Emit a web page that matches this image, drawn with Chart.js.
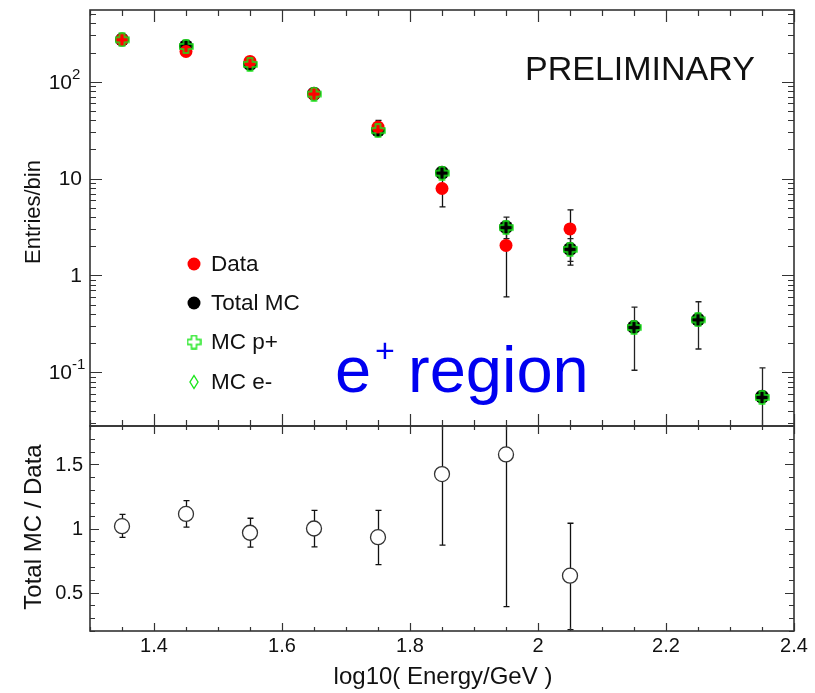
<!DOCTYPE html>
<html>
<head>
<meta charset="utf-8">
<script src="https://cdn.jsdelivr.net/npm/chart.js@4.4.1/dist/chart.umd.min.js"></script>
<style>
  body { margin: 0; background: #fff; }
  #wrap { position: relative; width: 815px; height: 693px; }
  canvas { position: absolute; left: 0; top: 0; }
</style>
</head>
<body>
<div id="wrap">
  <canvas id="topChart" width="815" height="693"></canvas>
  <canvas id="ratioChart" width="815" height="693"></canvas>
</div>
<script>
// bin centres, log10(E/GeV)
const binCenters = [1.35, 1.45, 1.55, 1.65, 1.75, 1.85, 1.95, 2.05, 2.15, 2.25, 2.35];

// entries per bin
const dataEntries  = [272, 205, 162, 75, 34, 7.9, 2.04, 3.02, null, null, null];
const dataErrLow   = [256, 191, 149, 66.5, 28.3, 5.1, 0.6, 1.28, null, null, null];
const dataErrHigh  = [288, 219, 175, 83.7, 39.8, 10.7, 3.45, 4.75, null, null, null];

const totalMC      = [272, 232, 152, 75, 31.5, 11.5, 3.15, 1.87, 0.293, 0.35, 0.056];
const totalMCLow   = [264, 224, 146, 71.5, 29.8, 10.7, 2.4, 1.4, 0.105, 0.174, 0.01];
const totalMCHigh  = [280, 240, 158, 78.5, 33.2, 12.3, 4.0, 2.4, 0.47, 0.535, 0.111];

const mcProton     = [271, 231, 151, 74.5, 31.3, 11.4, 3.12, 1.86, 0.29, 0.348, 0.055];
const mcElectron   = [null, null, null, null, null, null, null, null, null, null, null];

// ratio panel
const ratioBins    = [1.35, 1.45, 1.55, 1.65, 1.75, 1.85, 1.95, 2.05];
const ratioVals    = [1.018, 1.114, 0.967, 1.0, 0.932, 1.425, 1.578, 0.632];
const ratioLow     = [0.93, 1.01, 0.855, 0.857, 0.718, 0.87, 0.39, 0.21];
const ratioHigh    = [1.11, 1.218, 1.08, 1.142, 1.142, 2.0, 2.8, 1.041];

// ticks
const xTickValues  = [1.4, 1.6, 1.8, 2.0, 2.2, 2.4];
const xTickLabels  = ['1.4', '1.6', '1.8', '2', '2.2', '2.4'];
const logTickValues = [0.1, 1, 10, 100];
const logTickBase   = ['10', '1', '10', '10'];
const logTickExp    = ['-1', '', '', '2'];
const ratioTickValues = [0.5, 1, 1.5];
const ratioTickLabels = ['0.5', '1', '1.5'];

const legendLabels = ['Data', 'Total MC', 'MC p+', 'MC e-'];

const FONT = "'Liberation Sans', Arial, Helvetica, sans-serif";
const INK = '#111';
const FRAME = '#333';
const GREEN = '#19e619';

// open cross marker for MC p+
function openCross(size, color) {
  const c = document.createElement('canvas');
  c.width = size; c.height = size;
  const g = c.getContext('2d');
  const m = size / 2, o = size / 2 - 1, w = size / 6;
  g.strokeStyle = color; g.lineWidth = 1.4;
  g.beginPath();
  g.moveTo(m - w, m - o); g.lineTo(m + w, m - o); g.lineTo(m + w, m - w);
  g.lineTo(m + o, m - w); g.lineTo(m + o, m + w); g.lineTo(m + w, m + w);
  g.lineTo(m + w, m + o); g.lineTo(m - w, m + o); g.lineTo(m - w, m + w);
  g.lineTo(m - o, m + w); g.lineTo(m - o, m - w); g.lineTo(m - w, m - w);
  g.closePath();
  g.stroke();
  return c;
}
const crossImg = openCross(15, GREEN);

function pts(xs, ys) {
  return xs.map((x, i) => ({ x: x, y: ys[i] }));
}

function errorBars(chart, xs, lo, hi, color) {
  const { ctx, chartArea: a, scales: { x, y } } = chart;
  ctx.save();
  ctx.beginPath();
  ctx.rect(a.left, a.top, a.right - a.left, a.bottom - a.top);
  ctx.clip();
  ctx.strokeStyle = color;
  ctx.lineWidth = 1.3;
  xs.forEach((xv, i) => {
    if (lo[i] == null) return;
    const px = Math.round(x.getPixelForValue(xv)) + 0.5;
    const p1 = y.getPixelForValue(lo[i]);
    const p2 = y.getPixelForValue(hi[i]);
    ctx.beginPath();
    ctx.moveTo(px, p1); ctx.lineTo(px, p2);
    ctx.moveTo(px - 3, p1); ctx.lineTo(px + 3, p1);
    ctx.moveTo(px - 3, p2); ctx.lineTo(px + 3, p2);
    ctx.stroke();
  });
  ctx.restore();
}

// frame with inward ticks on all four sides
function frame(chart, yTicks, xLen, yLen) {
  const { ctx, chartArea: a, scales: { x, y } } = chart;
  ctx.save();
  ctx.strokeStyle = FRAME;
  ctx.lineWidth = 1.2;
  ctx.beginPath();
  for (let k = 26; k <= 48; k++) {
    const px = Math.round(x.getPixelForValue(k * 0.05)) + 0.5;
    const len = k % 4 === 0 ? xLen[0] : xLen[1];
    ctx.moveTo(px, a.top); ctx.lineTo(px, a.top + len);
    ctx.moveTo(px, a.bottom); ctx.lineTo(px, a.bottom - len);
  }
  yTicks.forEach(t => {
    const py = Math.round(y.getPixelForValue(t.v)) + 0.5;
    if (py < a.top - 0.5 || py > a.bottom + 0.5) return;
    const len = t.major ? yLen[0] : yLen[1];
    ctx.moveTo(a.left, py); ctx.lineTo(a.left + len, py);
    ctx.moveTo(a.right, py); ctx.lineTo(a.right - len, py);
  });
  ctx.stroke();
  ctx.lineWidth = 1.6;
  ctx.strokeRect(a.left, a.top, a.right - a.left, a.bottom - a.top);
  ctx.restore();
}

function rotatedText(ctx, text, cx, cy, size) {
  ctx.save();
  ctx.translate(cx, cy);
  ctx.rotate(-Math.PI / 2);
  ctx.font = size + 'px ' + FONT;
  ctx.fillStyle = INK;
  ctx.textAlign = 'center';
  ctx.textBaseline = 'middle';
  ctx.fillText(text, 0, 0);
  ctx.restore();
}

// ---------- top panel ----------
const logTicks = [];
for (let d = -2; d <= 2; d++) {
  for (let m = 1; m <= 9; m++) logTicks.push({ v: m * Math.pow(10, d), major: m === 1 });
}

const topDecor = {
  id: 'topDecor',
  beforeDatasetsDraw(chart) {
    errorBars(chart, binCenters, dataErrLow, dataErrHigh, '#111');
    errorBars(chart, binCenters, totalMCLow, totalMCHigh, '#222');
  },
  afterDraw(chart) {
    const { ctx, scales: { y } } = chart;
    frame(chart, logTicks, [12, 6], [12, 6]);

    // y tick labels
    ctx.save();
    ctx.fillStyle = INK;
    ctx.textBaseline = 'middle';
    logTickValues.forEach((v, i) => {
      const py = y.getPixelForValue(v);
      ctx.font = '21px ' + FONT;
      if (logTickExp[i]) {
        ctx.textAlign = 'right';
        ctx.fillText(logTickBase[i], 72, py + 1);
        ctx.textAlign = 'left';
        ctx.font = '15px ' + FONT;
        ctx.fillText(logTickExp[i], 72, py - 7);
      } else {
        ctx.textAlign = 'right';
        ctx.fillText(logTickBase[i], 82, py + 1);
      }
    });
    ctx.restore();

    rotatedText(ctx, 'Entries/bin', 34, 212, 22);

    // PRELIMINARY
    ctx.save();
    ctx.fillStyle = INK;
    ctx.font = '34px ' + FONT;
    ctx.textBaseline = 'alphabetic';
    ctx.textAlign = 'left';
    ctx.fillText('PRELIMINARY', 525, 80);

    // e+ region
    ctx.fillStyle = '#0000f0';
    ctx.font = '65px ' + FONT;
    ctx.fillText('e', 335, 392);
    ctx.font = '34px ' + FONT;
    ctx.fillText('+', 375, 362);
    ctx.font = '65px ' + FONT;
    ctx.fillText('region', 408, 392);
    ctx.restore();

    // legend
    const lx = 194, ly = [264, 303, 342, 382];
    ctx.save();
    ctx.fillStyle = '#ff0000';
    ctx.beginPath(); ctx.arc(lx, ly[0], 6.5, 0, Math.PI * 2); ctx.fill();
    ctx.fillStyle = '#000';
    ctx.beginPath(); ctx.arc(lx, ly[1], 6.5, 0, Math.PI * 2); ctx.fill();
    ctx.drawImage(crossImg, lx - 7.5, ly[2] - 7.5);
    ctx.strokeStyle = GREEN; ctx.lineWidth = 1.4;
    ctx.beginPath();
    ctx.moveTo(lx, ly[3] - 6.5); ctx.lineTo(lx + 4, ly[3]);
    ctx.lineTo(lx, ly[3] + 6.5); ctx.lineTo(lx - 4, ly[3]); ctx.closePath();
    ctx.stroke();
    ctx.fillStyle = INK;
    ctx.font = '22.5px ' + FONT;
    ctx.textAlign = 'left';
    ctx.textBaseline = 'middle';
    legendLabels.forEach((t, i) => ctx.fillText(t, 211, ly[i] + 1));
    ctx.restore();
  }
};

new Chart(document.getElementById('topChart'), {
  type: 'scatter',
  data: {
    datasets: [
      { label: 'MC p+', data: pts(binCenters, mcProton), pointStyle: crossImg, order: 1 },
      { label: 'Data', data: pts(binCenters, dataEntries), pointRadius: 6.5,
        backgroundColor: '#ff0000', borderColor: '#ff0000', borderWidth: 0, order: 2 },
      { label: 'MC e-', data: pts(binCenters, mcElectron), pointStyle: 'rectRot', pointRadius: 5,
        backgroundColor: 'rgba(0,0,0,0)', borderColor: GREEN, borderWidth: 1.4, order: 3 },
      { label: 'Total MC', data: pts(binCenters, totalMC), pointRadius: 7,
        backgroundColor: '#000', borderColor: '#000', borderWidth: 0, order: 4 }
    ]
  },
  options: {
    responsive: false,
    animation: false,
    devicePixelRatio: 1,
    layout: { padding: { left: 90, right: 21, top: 10, bottom: 693 - 426 } },
    plugins: { legend: { display: false }, tooltip: { enabled: false } },
    scales: {
      x: { type: 'linear', min: 1.3, max: 2.4, display: false },
      y: { type: 'logarithmic', min: 0.0279, max: 550, display: false }
    }
  },
  plugins: [topDecor]
});

// ---------- ratio panel ----------
const ratioTicks = [];
for (let k = 2; k <= 18; k++) ratioTicks.push({ v: k / 10, major: k % 5 === 0 });

const ratioDecor = {
  id: 'ratioDecor',
  beforeDatasetsDraw(chart) {
    errorBars(chart, ratioBins, ratioLow, ratioHigh, '#111');
  },
  afterDraw(chart) {
    const { ctx, scales: { x, y } } = chart;
    frame(chart, ratioTicks, [8, 4], [9, 5]);
    ctx.save();
    ctx.fillStyle = INK;
    ctx.font = '20px ' + FONT;
    ctx.textAlign = 'right';
    ctx.textBaseline = 'middle';
    ratioTickValues.forEach((v, i) => ctx.fillText(ratioTickLabels[i], 83, y.getPixelForValue(v) + 1));
    ctx.textAlign = 'center';
    ctx.textBaseline = 'top';
    xTickValues.forEach((v, i) => ctx.fillText(xTickLabels[i], x.getPixelForValue(v), 636));
    ctx.font = '24px ' + FONT;
    ctx.textBaseline = 'middle';
    ctx.fillText('log10( Energy/GeV )', 443, 677);
    ctx.restore();
    rotatedText(ctx, 'Total MC / Data', 34, 527, 24);
  }
};

new Chart(document.getElementById('ratioChart'), {
  type: 'scatter',
  data: {
    datasets: [
      { label: 'Total MC / Data', data: pts(ratioBins, ratioVals), pointRadius: 7.5,
        backgroundColor: '#fff', borderColor: '#333', borderWidth: 1.3 }
    ]
  },
  options: {
    responsive: false,
    animation: false,
    devicePixelRatio: 1,
    layout: { padding: { left: 90, right: 21, top: 426, bottom: 693 - 631 } },
    plugins: { legend: { display: false }, tooltip: { enabled: false } },
    scales: {
      x: { type: 'linear', min: 1.3, max: 2.4, display: false },
      y: { type: 'linear', min: 0.2, max: 1.8, display: false }
    }
  },
  plugins: [ratioDecor]
});
</script>
</body>
</html>
